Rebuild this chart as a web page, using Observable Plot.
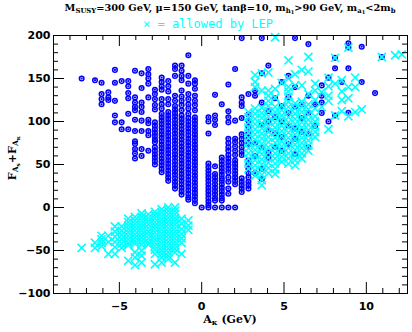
<!DOCTYPE html>
<html><head><meta charset="utf-8">
<script src="https://cdn.jsdelivr.net/npm/d3@7"></script>
<script src="https://cdn.jsdelivr.net/npm/@observablehq/plot@0.6"></script>
<style>
body{margin:0;background:#fff;}
#wrap{position:relative;width:412px;height:332px;overflow:hidden;}
.t{position:absolute;white-space:nowrap;line-height:1;}
.s{font-size:70%;position:relative;top:0.3em;}
.ss{font-size:75%;position:relative;top:0.25em;}
</style></head><body><div id="wrap"></div>
<script>
// axis ticks
const xDomain = [-9, 12.5];
const yDomain = [-100, 200];
const xMajor = [-5, 0, 5, 10];
const xMinor = [-8, -7, -6, -4, -3, -2, -1, 1, 2, 3, 4, 6, 7, 8, 9, 11, 12];
const yMajor = [-100, -50, 0, 50, 100, 150, 200];
const yMinor = [-90, -80, -70, -60, -40, -30, -20, -10, 10, 20, 30, 40, 60, 70, 80, 90, 110, 120, 130, 140, 160, 170, 180, 190];

// blue diamonds: [A_kappa, [F values]]
const blueColumns = [
  [-7.29, [150]],
  [-6.48, [148]],
  [-6.08, [145, 132, 126, 120]],
  [-5.67, [134, 128, 125]],
  [-5.27, [160, 145, 124, 107, 99]],
  [-4.86, [147, 99, 91]],
  [-4.46, [147, 141, 133, 127, 109, 91]],
  [-4.05, [159, 128, 122, 117, 113, 102, 89, 77, 74, 68, 63, 57]],
  [-3.65, [156, 139, 122, 117, 111, 101, 89, 68, 60]],
  [-3.24, [161, 155, 150, 144, 128, 102, 98, 89, 84, 66]],
  [-2.84, [137, 132, 126, 119, 114, 99, 95, 91, 87, 83, 79, 76, 70, 66, 62, 58, 54, 50]],
  [-2.43, [151, 146, 141, 137, 126, 120, 115, 109, 105, 101, 97, 93, 89, 85, 81, 77, 73, 69, 65, 61, 57, 53, 49, 45, 41]],
  [-2.03, [147, 141, 135, 126, 120, 111, 107, 103, 99, 95, 91, 87, 83, 79, 75, 71, 67, 63, 59, 55, 51, 47, 43, 39, 35, 31]],
  [-1.62, [165, 161, 153, 130, 124, 118, 114, 110, 106, 102, 98, 94, 90, 86, 82, 78, 74, 70, 66, 62, 58, 54, 50, 46, 42, 38, 34, 30, 26, 22]],
  [-1.22, [165, 159, 153, 148, 136, 129, 124, 119, 113, 107, 103, 99, 95, 91, 87, 83, 79, 75, 71, 67, 63, 59, 55, 51, 47, 43, 39, 35, 31, 27, 23, 19, 15]],
  [-0.81, [177, 153, 144, 132, 126, 120, 115, 109, 104, 100, 96, 92, 88, 84, 80, 76, 72, 68, 64, 60, 56, 52, 48, 44, 40, 36, 32, 28, 24, 20, 16, 12, 9]],
  [-0.41, [148, 144, 138, 130, 124, 119, 113, 105, 101, 97, 93, 89, 85, 81, 77, 73, 69, 65, 61, 57, 53, 49, 45, 41, 37, 33, 29, 25, 21, 17, 13, 9, 5]],
  [0, [0]],
  [0.41, [105, 100, 86, 51, 47, 43, 39, 35, 31, 27, 23, 19, 15, 11, 7, 3, 0]],
  [0.81, [131, 107, 102, 96, 48, 39, 35, 31, 27, 23, 19, 15, 11, 8, 0]],
  [1.22, [120, 58, 54, 50, 46, 42, 38, 34, 31, 27, 23, 19, 15, 11, 8, 0]],
  [1.62, [143, 112, 105, 99, 80, 75, 70, 66, 61, 57, 53, 49, 45, 41, 35, 30, 22, 16, 0]],
  [2.03, [161, 101, 80, 76, 71, 66, 61, 55, 51, 47, 43, 39, 35, 31, 27, 0]],
  [2.43, [197, 128, 122, 118, 104, 85, 80, 75, 70, 65, 61, 34, 30, 26, 22, 18]],
  [2.84, [132, 108, 101, 94, 86, 80, 74, 55, 50, 45, 40, 35, 30, 26, 22]],
  [3.24, [136, 130, 75, 60, 40]],
  [3.65, [197, 156, 122, 96, 70, 45, 33]],
  [4.05, [165, 112, 100, 90, 64, 58]],
  [4.46, [127, 105, 86, 70]],
  [4.86, [146, 118, 100, 82, 66]],
  [5.27, [153, 128, 110, 95, 74]],
  [5.67, [197, 140, 117, 92, 80, 62]],
  [6.08, [120, 104, 88]],
  [6.48, [190, 130, 110, 86, 70]],
  [6.89, [120, 95]],
  [7.29, [142, 130, 122, 110]],
  [7.70, [151, 100]],
  [8.10, [174, 162, 107]],
  [8.51, [146]],
  [8.91, [191, 186, 162, 110]],
  [9.72, [187, 146]],
  [10.53, [133]],
  [10.94, [175]]
];

// cyan crosses (allowed by LEP): [A_kappa, [F values]]
const cyanColumns = [
  [-7.29, [-47]],
  [-6.48, [-41, -47]],
  [-6.08, [-33, -37, -41, -45]],
  [-5.67, [-33, -40, -54]],
  [-5.27, [-22, -28, -34, -40, -46, -54]],
  [-4.86, [-22, -27, -32, -37, -42, -47]],
  [-4.46, [-13, -17, -21, -25, -29, -33, -37, -41, -44, -62]],
  [-4.05, [-11, -15, -19, -23, -27, -31, -35, -39, -42, -52, -58, -67]],
  [-3.65, [-7, -11, -15, -19, -23, -27, -31, -35, -39, -43, -50, -56, -64]],
  [-3.24, [-8, -12, -16, -20, -24, -28, -32, -36, -40, -43]],
  [-2.84, [-5, -9, -13, -17, -21, -25, -29, -33, -37, -41, -45, -49, -54, -66]],
  [-2.43, [-2, -6, -10, -14, -18, -22, -26, -30, -34, -38, -42, -46, -50, -54, -58, -64]],
  [-2.03, [0, -4, -8, -12, -16, -20, -24, -28, -32, -36, -40, -44, -48, -52, -56, -60]],
  [-1.62, [0, -4, -8, -12, -16, -20, -24, -28, -32, -36, -40, -44, -48, -52, -64]],
  [-1.22, [-13, -19, -25, -31, -36, -41, -54]],
  [-0.81, [-15, -21, -26]],
  [2.84, [45, 51, 57, 63, 69, 75, 81, 87, 93, 99, 105, 111]],
  [3.24, [37, 43, 49, 55, 61, 67, 73, 79, 85, 91, 97, 103, 109, 115, 140, 146, 154]],
  [3.65, [26, 32, 38, 44, 50, 56, 62, 68, 74, 80, 86, 92, 98, 104, 110, 116, 136, 156]],
  [4.05, [40, 46, 52, 58, 64, 70, 76, 82, 88, 94, 100, 106, 112, 118, 124, 130, 136, 157]],
  [4.46, [39, 45, 51, 57, 63, 69, 75, 81, 87, 93, 99, 105, 111, 117, 128, 138, 198]],
  [4.86, [53, 59, 65, 71, 77, 83, 89, 95, 101, 107, 113, 119, 145]],
  [5.27, [51, 57, 63, 69, 75, 81, 87, 93, 99, 105, 111, 117, 123, 129, 135, 140, 150, 171]],
  [5.67, [49, 55, 61, 67, 73, 79, 85, 91, 97, 103, 109, 115, 121, 142, 155]],
  [6.08, [57, 63, 69, 75, 81, 87, 93, 99, 105, 111, 117, 123, 142, 160]],
  [6.48, [66, 72, 78, 84, 90, 96, 102, 108, 114, 120, 132, 158, 175]],
  [6.89, [82, 88, 94, 100, 106, 115, 125, 136, 144]],
  [7.29, [117, 134]],
  [7.70, [91, 124, 130, 141, 151]],
  [8.10, [107, 144, 174]],
  [8.51, [112, 125, 135, 148]],
  [8.91, [106, 127, 140, 186]],
  [9.32, [111, 140, 151]],
  [9.72, [114]],
  [10.94, [175]],
  [11.75, [177]],
  [12.15, [178]]
];

const blue = blueColumns.flatMap(([x, ys]) => ys.map(y => ({x, y})));
const cyan = cyanColumns.flatMap(([x, ys]) => ys.map(y => ({x, y})));

const W = 412, H = 332, mL = 53, mR = 5, mT = 35, mB = 39;
const fw = W - mL - mR, fh = H - mT - mB;
const majorLen = 11, minorLen = 5;
const fmt = d => d < 0 ? "\u2212" + Math.abs(d) : String(d);

const chart = Plot.plot({
  width: W, height: H,
  marginLeft: mL, marginRight: mR, marginTop: mT, marginBottom: mB,
  style: {fontFamily: "DejaVu Sans", fontSize: "11px", fontWeight: "bold", background: "white", color: "black"},
  x: {domain: xDomain, ticks: xMajor, tickSize: 0, tickPadding: 9, label: null, tickFormat: fmt},
  y: {domain: yDomain, ticks: yMajor, tickSize: 0, tickPadding: 3, label: null, tickFormat: fmt},
  marks: [
    Plot.dot(blue, {x: "x", y: "y", r: 2.3, stroke: "#0000ff", strokeWidth: 1.5, fill: "none"}),
    Plot.dot(blue, {x: "x", y: "y", r: 1.1, fill: "#0000ff"}),
    Plot.dot(cyan, {x: "x", y: "y", symbol: "times", r: 3.8, stroke: "#00ffff", strokeWidth: 1.6}),
    Plot.frame({stroke: "black", strokeWidth: 1}),
    Plot.tickX(xMajor, {insetTop: fh - majorLen, stroke: "black"}),
    Plot.tickX(xMajor, {insetBottom: fh - majorLen, stroke: "black"}),
    Plot.tickX(xMinor, {insetTop: fh - minorLen, stroke: "black"}),
    Plot.tickX(xMinor, {insetBottom: fh - minorLen, stroke: "black"}),
    Plot.tickY(yMajor, {insetRight: fw - majorLen, stroke: "black"}),
    Plot.tickY(yMajor, {insetLeft: fw - majorLen, stroke: "black"}),
    Plot.tickY(yMinor, {insetRight: fw - minorLen, stroke: "black"}),
    Plot.tickY(yMinor, {insetLeft: fw - minorLen, stroke: "black"})
  ]
});
const wrap = document.getElementById("wrap");
wrap.appendChild(chart);

function addText(html, style) {
  const d = document.createElement("div");
  d.className = "t";
  d.innerHTML = html;
  Object.assign(d.style, style);
  wrap.appendChild(d);
  return d;
}
addText('M<span class="s">SUSY</span>=300 GeV, \u03bc=150 GeV, tan\u03b2=10, m<span class="s">h<span class="ss">1</span></span>&gt;90 GeV, m<span class="s">a<span class="ss">1</span></span>&lt;2m<span class="s">b</span>',
  {left: "230px", top: "3px", transform: "translateX(-50%)", fontFamily: "DejaVu Serif", fontSize: "9.8px", fontWeight: "bold"});
addText('\u00d7 = allowed by LEP', {left: "143px", top: "18px", fontFamily: "DejaVu Sans Mono", fontSize: "12px", color: "#00ffff"});
addText('A<span class="s">\u03ba</span> (GeV)', {left: "230px", top: "314px", transform: "translateX(-50%)", fontFamily: "DejaVu Serif", fontSize: "11px", fontWeight: "bold"});
addText('F<span class="s">A<span class="ss">s</span></span>+F<span class="s">A<span class="ss">\u03ba</span></span>',
  {left: "12px", top: "158px", transform: "translate(-50%,-50%) rotate(-90deg)", fontFamily: "DejaVu Serif", fontSize: "11px", fontWeight: "bold"});
</script>
</body></html>
